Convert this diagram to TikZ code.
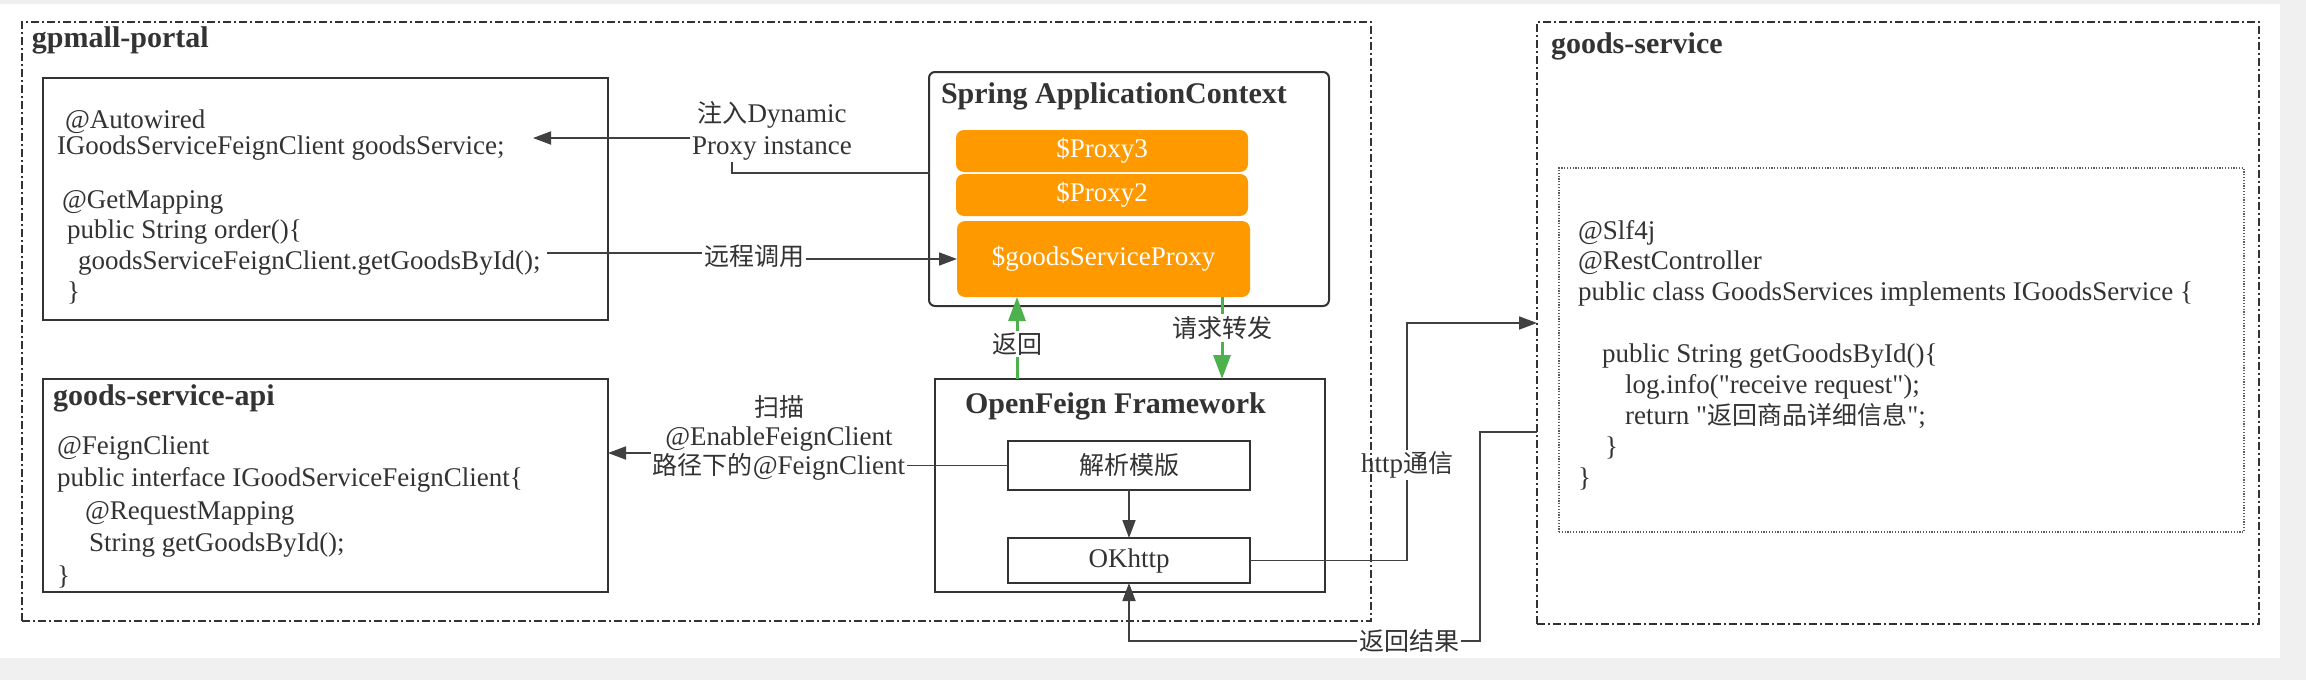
\documentclass[tikz,border=0pt]{standalone}
\usepackage{fontspec}
\setmainfont{Liberation Serif}[Ligatures=TeXOff]
\newfontfamily\cjk{Noto Sans CJK SC}
\usetikzlibrary{arrows.meta}
\definecolor{bggray}{RGB}{240,240,240}
\definecolor{ink}{RGB}{51,51,51}
\definecolor{linec}{RGB}{64,64,64}
\definecolor{orangec}{RGB}{255,153,0}
\definecolor{greenc}{RGB}{77,178,77}
\newcommand\zh[1]{{\cjk\fontsize{12.5pt}{15pt}\selectfont #1}}
\newcommand\codelines[2]{\vtop{\baselineskip=#1\lineskiplimit=-\maxdimen\lineskip=0pt #2}}
\begin{document}
\begin{tikzpicture}[x=0.5pt,y=-0.5pt,
  every node/.style={inner sep=0pt,outer sep=0pt,text=ink},
  codebox/.style={draw=ink,line width=1pt,anchor=north west,fill=white},
  group/.style={draw=ink,line width=0.8pt,dash pattern=on 4pt off 1.5pt on 1pt off 1.5pt,anchor=north west},
  dotbox/.style={draw=ink!80,line width=0.6pt,dash pattern=on 0.6pt off 0.8pt,anchor=north west},
  proxy/.style={fill=orangec,rounded corners=4pt,text=white,anchor=north west,font=\fontsize{13.5pt}{15pt}\selectfont},
  conn/.style={draw=linec,line width=0.9pt},
  arr/.style={conn,-{Triangle[length=9pt,width=6.5pt]}},
  gline/.style={draw=greenc,line width=1.5pt},
  garr/.style={gline,-{Triangle[length=12pt,width=8.5pt]}},
  title/.style={font=\fontsize{15pt}{18pt}\selectfont\bfseries,anchor=base west},
  code/.style={anchor=base west,font=\fontsize{13.5pt}{15pt}\selectfont},
  lbl/.style={align=center,inner sep=1pt,font=\fontsize{13.5pt}{16pt}\selectfont}
]
\useasboundingbox (0,0) rectangle (2306,680);
% background
\fill[bggray] (0,0) rectangle (2306,680);
\fill[white] (0,4) rectangle (2280,658);

% groups
\node[group,minimum width=674.5pt,minimum height=299.5pt] (portal) at (22,22) {};
\node[title] (portalTitle) at (32,47) {gpmall-portal};
\node[group,minimum width=361pt,minimum height=301pt] (gs) at (1537,22) {};
\node[title] (gsTitle) at (1551,53) {goods-service};
\node[dotbox,minimum width=342.5pt,minimum height=182pt] (gsInner) at (1559,168) {};

% portal code box
\node[codebox,minimum width=282.5pt,minimum height=121pt] (pcode) at (43,78) {};
\node[code] (pcodeA) at (57,128)
  {\codelines{13pt}{\hbox{\hspace*{4pt}@Autowired}\hbox{IGoodsServiceFeignClient goodsService;}}};
\node[code] (pcodeB) at (57,208)
  {\codelines{15.4pt}{\hbox{\hspace*{2.5pt}@GetMapping}\hbox{\hspace*{5pt}public String order()\{}\hbox{\hspace*{10.5pt}goodsServiceFeignClient.getGoodsById();}\hbox{\hspace*{5pt}\}}}};

% api box
\node[codebox,minimum width=282.5pt,minimum height=106.5pt] (api) at (43,379) {};
\node[title] (apiTitle) at (53,405) {goods-service-api};
\node[code] (apiCode) at (57,454)
  {\codelines{16.25pt}{\hbox{@FeignClient}\hbox{public interface IGoodServiceFeignClient\{}\hbox{\hspace*{14pt}@RequestMapping}\hbox{\hspace*{16pt}String getGoodsById();}\hbox{\}}}};

% spring context
\node[draw=ink,line width=1pt,rounded corners=3pt,fill=white,anchor=north west,minimum width=200pt,minimum height=117pt] (sac) at (929,72) {};
\node[title] (sacTitle) at (941,103) {Spring ApplicationContext};
\node[proxy,minimum width=146pt,minimum height=21pt] (p3) at (956,130) {\$Proxy3};
\node[proxy,minimum width=146pt,minimum height=21pt] (p2) at (956,174) {\$Proxy2};
\node[proxy,minimum width=146.5pt,minimum height=38pt] (gsp) at (957,221) {\$goodsServiceProxy};

% openfeign
\node[codebox,minimum width=195pt,minimum height=106.5pt] (ofw) at (935,379) {};
\node[title] (ofwTitle) at (965,413) {OpenFeign Framework};
\node[codebox,minimum width=121pt,minimum height=24.5pt] (parse) at (1008,441) {\zh{解析模版}};
\node[codebox,minimum width=121pt,minimum height=22.5pt,font=\fontsize{13.5pt}{15pt}\selectfont] (okh) at (1008,538) {OKhttp};

% goods-service code
\node[code] (gsCode) at (1578,239)
  {\codelines{15.45pt}{\hbox{@Slf4j}\hbox{@RestController}\hbox{public class GoodsServices implements IGoodsService \{}\hbox{}%
   \hbox{\hspace*{12pt}public String getGoodsById()\{}\hbox{\hspace*{23.5pt}log.info("receive request");}%
   \hbox{\hspace*{23.5pt}return "\zh{返回商品详细信息}";}\hbox{\hspace*{13.5pt}\}}\hbox{\}}}};

% labels
\node[lbl] (lblInject) at (772,131) {\zh{注入}Dynamic\\Proxy instance};
\node[lbl] (lblCall) at (754,256) {\zh{远程调用}};
\node[lbl] (lblRet) at (1017,344) {\zh{返回}};
\node[lbl] (lblFwd) at (1222,328) {\zh{请求转发}};
\node[lbl,font=\fontsize{13.5pt}{14.3pt}\selectfont] (lblScan) at (779,438) {\zh{扫描}\\@EnableFeignClient\\\zh{路径下的}@FeignClient};
\node[lbl] (lblHttp) at (1407,465) {http\zh{通信}};
\node[lbl] (lblRes) at (1409,641) {\zh{返回结果}};

% connectors
\coordinate (injBend) at (732,173);
\coordinate (injEnd) at (533,138);
\draw[conn] (sac.west |- injBend) -- (injBend) -- (injBend |- lblInject.south);
\draw[arr] (lblInject.west |- injEnd) -- (injEnd);

\coordinate (callStart) at (547,253);
\draw[conn] (callStart) -- (lblCall.west |- callStart);
\draw[arr] (lblCall.east |- gsp.west) -- (gsp.west);

\draw[garr] (lblRet.north) -- (lblRet.north |- gsp.south);
\draw[gline] (lblRet.south) -- (lblRet.south |- ofw.north);
\draw[gline] (lblFwd.north) -- (lblFwd.north |- gsp.south);
\draw[garr] (lblFwd.south) -- (lblFwd.south |- ofw.north);

\draw[conn] (parse.west) -- (parse.west -| lblScan.east);
\draw[arr] ([yshift=-7.5pt]lblScan.west) -- ([yshift=-7.5pt]lblScan.west -| api.east);
\draw[arr] (parse.south) -- (okh.north);

\draw[conn] (okh.east) -| (lblHttp.south);
\draw[arr] (lblHttp.north) |- (gs.west);

\coordinate (resBend) at (1480,641);
\draw[conn] ([yshift=-54.5pt]gs.west) -| (resBend) -- (lblRes.east |- resBend);
\draw[arr] (lblRes.west |- resBend) -| (okh.south);
\end{tikzpicture}
\end{document}
